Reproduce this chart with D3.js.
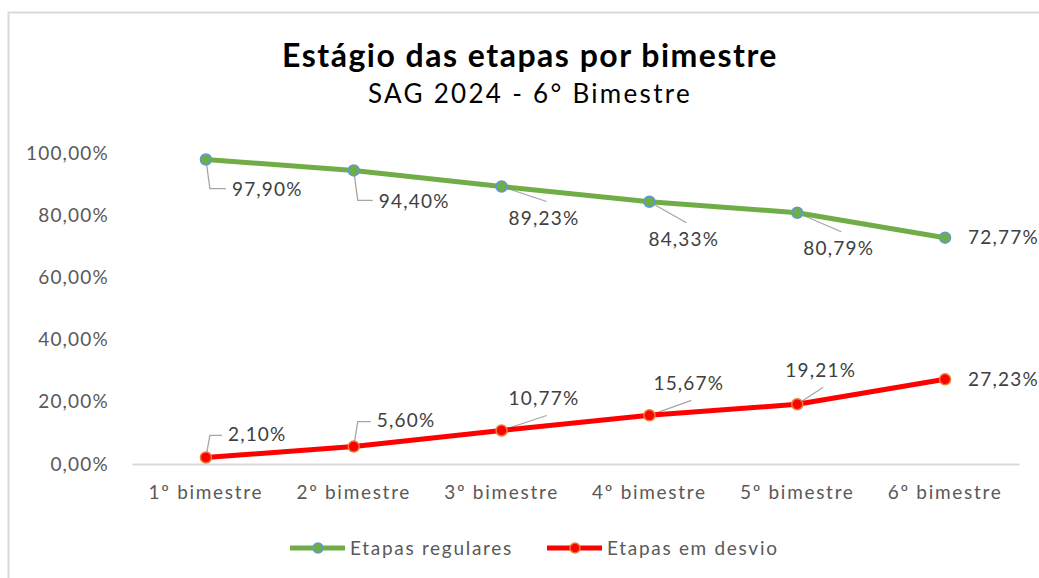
<!DOCTYPE html>
<html>
<head>
<meta charset="utf-8">
<script src="https://cdn.jsdelivr.net/npm/d3@7"></script>
<style>
  body { margin: 0; background: #fff; overflow: hidden; }
  svg { display: block; font-family: Lato, "Open Sans", sans-serif; }
</style>
</head>
<body>
<div id="chart"></div>
<script>
// data
const categories = ["1º bimestre", "2º bimestre", "3º bimestre", "4º bimestre", "5º bimestre", "6º bimestre"];
const regulares = [97.90, 94.40, 89.23, 84.33, 80.79, 72.77];
const desvio = [2.10, 5.60, 10.77, 15.67, 19.21, 27.23];
const yTicks = [0, 20, 40, 60, 80, 100];
const seriesNames = ["Etapas regulares", "Etapas em desvio"];

// label placement (offsets from point: text start, leader kind)
const regLabelPos = [
  { dx: 26, dy: 30, leader: "elbow" },
  { dx: 25, dy: 31, leader: "elbow" },
  { dx: 7, dy: 32, leader: "diag" },
  { dx: -1, dy: 38, leader: "diag" },
  { dx: 6, dy: 36, leader: "diag" },
  { dx: 23, dy: 0, leader: "none" }
];
const devLabelPos = [
  { dx: 22, dy: -23, leader: "elbow" },
  { dx: 23, dy: -26, leader: "elbow" },
  { dx: 7, dy: -32, leader: "diag" },
  { dx: 4, dy: -32, leader: "diag" },
  { dx: -12, dy: -34, leader: "diag" },
  { dx: 23, dy: 0, leader: "none" }
];

const W = 1039, H = 578;
const margin = { top: 153, right: 19, bottom: 114, left: 132 };
const numFont = 19, numSpacing = 1.2, wordSpacing = 1.7;

const svg = d3.select("#chart").append("svg")
  .attr("width", W)
  .attr("height", H);

// chart border
svg.append("rect")
  .attr("x", 8.5).attr("y", 12.5)
  .attr("width", W + 10).attr("height", H + 10)
  .attr("fill", "#fff")
  .attr("stroke", "#d9d9d9")
  .attr("stroke-width", 2);

const x = d3.scaleBand()
  .domain(categories)
  .range([margin.left, W - margin.right - 1]);

const y = d3.scaleLinear()
  .domain([0, 100])
  .range([H - margin.bottom, margin.top]);

const fmt = v => d3.format(".2f")(v).replace(".", ",") + "%";

// title
svg.append("text")
  .attr("x", 530).attr("y", 67)
  .attr("text-anchor", "middle")
  .attr("font-size", 32)
  .attr("font-weight", "bold")
  .attr("letter-spacing", 1.5)
  .attr("fill", "#000")
  .text("Estágio das etapas por bimestre");

svg.append("text")
  .attr("x", 530).attr("y", 103)
  .attr("text-anchor", "middle")
  .attr("font-size", 26)
  .attr("letter-spacing", 2.3)
  .attr("fill", "#000")
  .text("SAG 2024 - 6° Bimestre");

// y axis (labels only)
const yAxis = d3.axisLeft(y)
  .tickValues(yTicks)
  .tickSize(0)
  .tickPadding(23)
  .tickFormat(fmt);

const gy = svg.append("g")
  .attr("transform", `translate(${margin.left},0)`)
  .call(yAxis);
gy.select(".domain").remove();
gy.selectAll("text")
  .attr("font-size", numFont)
  .attr("letter-spacing", numSpacing)
  .attr("font-family", "Lato, sans-serif")
  .attr("fill", "#595959");

// x axis
const xAxis = d3.axisBottom(x).tickSize(0).tickPadding(22);
const gx = svg.append("g")
  .attr("transform", `translate(0,${y(0)})`)
  .call(xAxis);
gx.select(".domain")
  .attr("stroke", "#d9d9d9")
  .attr("stroke-width", 2);
gx.selectAll("text")
  .attr("font-size", numFont)
  .attr("letter-spacing", wordSpacing)
  .attr("font-family", "Lato, sans-serif")
  .attr("fill", "#595959");

const cx = (d, i) => x(categories[i]) + x.bandwidth() / 2;

const line = d3.line()
  .x((d, i) => cx(d, i))
  .y(d => y(d));

function drawSeries(values, color, markerStroke, labelPos) {
  const g = svg.append("g");

  // leader lines
  values.forEach((v, i) => {
    const p = labelPos[i];
    const px = cx(v, i), py = y(v);
    const tx = px + p.dx, ty = py + p.dy;
    if (p.leader === "elbow") {
      const ey = p.dy > 0 ? ty - 1 : ty + 1;
      g.append("path")
        .attr("d", `M${px},${py} L${px + 4},${ey} L${tx - 6},${ey}`)
        .attr("fill", "none")
        .attr("stroke", "#a6a6a6")
        .attr("stroke-width", 1.3);
    } else if (p.leader === "diag") {
      g.append("path")
        .attr("d", `M${px},${py} L${tx + 38},${ty + (p.dy > 0 ? -17 : 17)}`)
        .attr("fill", "none")
        .attr("stroke", "#a6a6a6")
        .attr("stroke-width", 1.3);
    }
  });

  g.append("path")
    .datum(values)
    .attr("d", line)
    .attr("fill", "none")
    .attr("stroke", color)
    .attr("stroke-width", 5)
    .attr("stroke-linejoin", "round");

  g.selectAll("circle")
    .data(values)
    .join("circle")
    .attr("cx", (d, i) => cx(d, i))
    .attr("cy", d => y(d))
    .attr("r", 5.5)
    .attr("fill", color)
    .attr("stroke", markerStroke)
    .attr("stroke-width", 1.5);

  g.selectAll("text")
    .data(values)
    .join("text")
    .attr("x", (d, i) => cx(d, i) + labelPos[i].dx)
    .attr("y", (d, i) => y(d) + labelPos[i].dy)
    .attr("dy", "0.35em")
    .attr("font-size", numFont)
    .attr("letter-spacing", numSpacing)
    .attr("fill", "#404040")
    .text(d => fmt(d));
}

drawSeries(regulares, "#70ad47", "#5b9bd5", regLabelPos);
drawSeries(desvio, "#ff0000", "#ed7d31", devLabelPos);

// legend
const legend = [
  { name: seriesNames[0], color: "#70ad47", stroke: "#5b9bd5", x: 290 },
  { name: seriesNames[1], color: "#ff0000", stroke: "#ed7d31", x: 547 }
];
const lg = svg.append("g");
legend.forEach(l => {
  lg.append("line")
    .attr("x1", l.x).attr("x2", l.x + 55)
    .attr("y1", 548).attr("y2", 548)
    .attr("stroke", l.color)
    .attr("stroke-width", 5);
  lg.append("circle")
    .attr("cx", l.x + 28).attr("cy", 548)
    .attr("r", 5)
    .attr("fill", l.color)
    .attr("stroke", l.stroke)
    .attr("stroke-width", 1.5);
  lg.append("text")
    .attr("x", l.x + 60).attr("y", 548)
    .attr("dy", "0.35em")
    .attr("font-size", numFont)
    .attr("letter-spacing", wordSpacing)
    .attr("fill", "#595959")
    .text(l.name);
});
</script>
</body>
</html>
